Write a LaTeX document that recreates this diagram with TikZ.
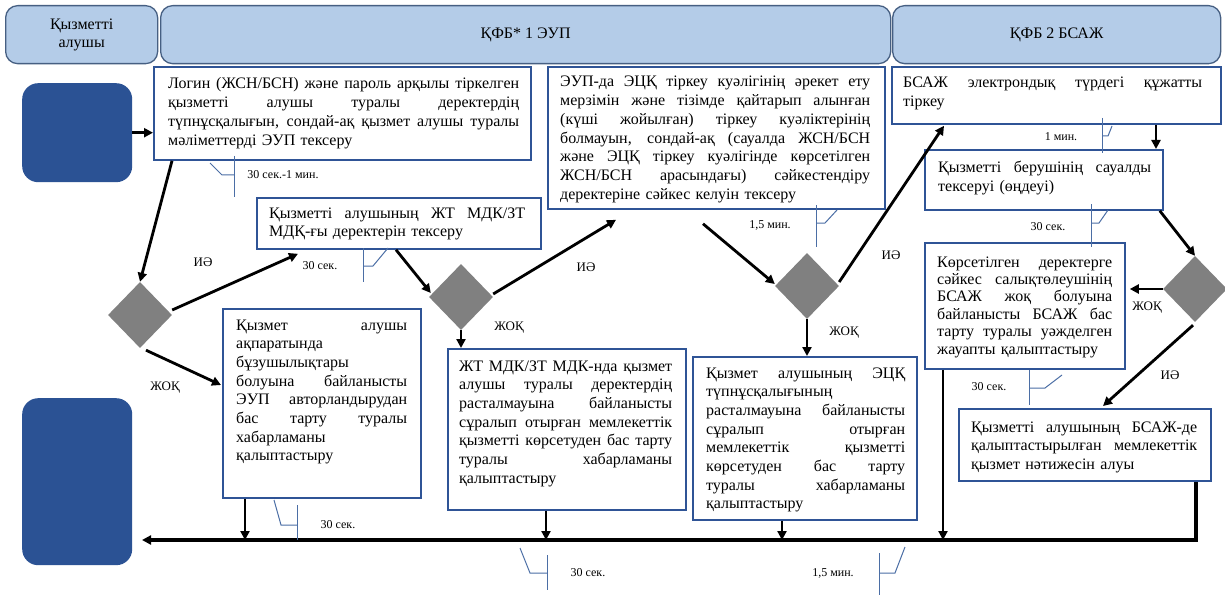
\documentclass[tikz,border=0pt]{standalone}
\usepackage{fontspec}
\setmainfont{Liberation Serif}
\usetikzlibrary{arrows.meta,shapes.geometric,calc}
\definecolor{hdrfill}{RGB}{180,204,232}
\definecolor{hdrline}{RGB}{70,95,130}
\definecolor{boxline}{RGB}{47,84,150}
\definecolor{darkbox}{RGB}{43,82,148}
\definecolor{diagray}{RGB}{128,128,128}
\definecolor{tickline}{RGB}{75,110,165}
\newcommand{\jw}{100pt}
\newcommand{\J}[1]{\leavevmode\hbox to \jw{\spaceskip=0.25em plus 1fil\relax\xspaceskip=\spaceskip #1}\\}
\newcommand{\btxt}{\fontsize{16}{18.7}\selectfont}
\begin{document}
\begin{tikzpicture}[x=1pt,y=-1pt,
 hdr/.style={draw=hdrline, line width=1.3pt, fill=hdrfill, rounded corners=12pt, inner sep=0pt, anchor=north west, align=center, font=\fontsize{16}{18}\selectfont},
 pbox/.style={draw=boxline, line width=1.8pt, fill=white, inner sep=0pt, anchor=north west},
 ptext/.style={anchor=base west, inner sep=0pt, align=left, font=\btxt},
 darkb/.style={fill=darkbox, rounded corners=16pt, inner sep=0pt, anchor=north west},
 dia/.style={diamond, fill=diagray, inner sep=0pt, minimum width=64pt, minimum height=66pt},
 arr/.style={line width=2.8pt, -{Triangle[length=9pt,width=9pt]}},
 lbl/.style={font=\fontsize{13}{15}\selectfont, inner sep=0pt},
 tlbl/.style={font=\fontsize{12}{14}\selectfont, inner sep=0pt},
 tick/.style={draw=tickline, line width=1pt}]
\useasboundingbox (0,0) rectangle (1225,596);
\fill[white] (0,0) rectangle (1225,596);

% headers
\node[hdr, minimum width=152pt, minimum height=58pt] (h1) at (5,5) {Қызметті\\алушы};
\node[hdr, minimum width=730pt, minimum height=58pt] (h2) at (160,5) {ҚФБ* 1 ЭУП};
\node[hdr, minimum width=328pt, minimum height=58pt] (h3) at (892,5) {ҚФБ 2 БСАЖ};

% dark boxes
\node[darkb, minimum width=110pt, minimum height=99pt] (lb1) at (22,83) {};
\node[darkb, minimum width=110pt, minimum height=167pt] (lb2) at (22,398) {};

% process boxes
\node[pbox, minimum width=377pt, minimum height=93pt] (login) at (153,66) {};
\node[pbox, minimum width=337pt, minimum height=142pt] (euip) at (547,66) {};
\node[pbox, minimum width=329pt, minimum height=57pt] (bsaj) at (891,66) {};
\node[pbox, minimum width=284pt, minimum height=51pt] (jt) at (256,197) {};
\node[pbox, minimum width=238pt, minimum height=60pt] (kb) at (924,149) {};
\node[pbox, minimum width=200pt, minimum height=126pt] (kor) at (924,242) {};
\node[pbox, minimum width=198pt, minimum height=189pt] (akp) at (222,308) {};
\node[pbox, minimum width=238pt, minimum height=161pt] (jtm) at (447,348) {};
\node[pbox, minimum width=224pt, minimum height=163pt] (ecq) at (692,356) {};
\node[pbox, minimum width=252pt, minimum height=72pt] (bd) at (958,408) {};

% texts
\node[ptext, text width=351pt] (login-t) at (168,89) {\renewcommand{\jw}{351pt}\J{Логин (ЖСН/БСН) және пароль арқылы тіркелген}\J{қызметті алушы туралы деректердің}\J{түпнұсқалығын, сондай-ақ қызмет алушы туралы}мәліметтерді ЭУП тексеру};
\node[ptext, text width=310pt] (euip-t) at (560,87) {\renewcommand{\jw}{310pt}\J{ЭУП-да ЭЦҚ тіркеу куәлігінің әрекет ету}\J{мерзімін және тізімде қайтарып алынған}\J{(күші жойылған) тіркеу куәліктерінің}\J{болмауын, сондай-ақ (сауалда ЖСН/БСН}\J{және ЭЦҚ тіркеу куәлігінде көрсетілген}\J{ЖСН/БСН арасындағы) сәйкестендіру}деректеріне сәйкес келуін тексеру};
\node[ptext, text width=299pt] (bsaj-t) at (903,88) {\renewcommand{\jw}{299pt}\J{БСАЖ электрондық түрдегі құжатты}тіркеу};
\node[ptext, text width=256pt] (jt-t) at (269,218) {\renewcommand{\jw}{256pt}\J{Қызметті алушының ЖТ МДК/ЗТ}МДҚ-ғы деректерін тексеру};
\node[ptext, text width=213pt] (kb-t) at (938,173) {\renewcommand{\jw}{213pt}\J{Қызметті берушінің сауалды}тексеруі (өңдеуі)};
\node[ptext, text width=175pt, font=\fontsize{16}{17.4}\selectfont] (kor-t) at (937,267) {\renewcommand{\jw}{175pt}\J{Көрсетілген деректерге}\J{сәйкес салықтөлеушінің}\J{БСАЖ жоқ болуына}\J{байланысты БСАЖ бас}\J{тарту туралы уәжделген}жауапты қалыптастыру};
\node[ptext, text width=171pt] (akp-t) at (236,330) {\renewcommand{\jw}{171pt}\J{Қызмет алушы}ақпаратында\\бұзушылықтары\\\J{болуына байланысты}\J{ЭУП авторландырудан}\J{бас тарту туралы}хабарламаны\\қалыптастыру};
\node[ptext, text width=213pt] (jtm-t) at (459,371) {\renewcommand{\jw}{213pt}\J{ЖТ МДК/ЗТ МДК-нда қызмет}\J{алушы туралы деректердің}\J{расталмауына байланысты}\J{сұралып отырған мемлекеттік}\J{қызметті көрсетуден бас тарту}\J{туралы хабарламаны}қалыптастыру};
\node[ptext, text width=199pt] (ecq-t) at (706,378) {\renewcommand{\jw}{199pt}\J{Қызмет алушының ЭЦҚ}түпнұсқалығының\\\J{расталмауына байланысты}\J{сұралып отырған}\J{мемлекеттік қызметті}\J{көрсетуден бас тарту}\J{туралы хабарламаны}қалыптастыру};
\node[ptext, text width=226pt] (bd-t) at (971,432) {\renewcommand{\jw}{226pt}\J{Қызметті алушының БСАЖ-де}\J{қалыптастырылған мемлекеттік}қызмет нәтижесін алуы};

% diamonds
\node[dia] (d1) at (140,315) {};
\node[dia] (d2) at (461,297) {};
\node[dia] (d3) at (807,286) {};
\node[dia] (d4) at (1195,289) {};

% main line coordinates and arrow start points
\coordinate (mainR) at (1197,540);
\coordinate (mainL) at (142,540);
\coordinate (s1) at ($(akp.south west)+(23,0)$);
\coordinate (s2) at ($(jtm.south west)+(99,0)$);
\coordinate (s3) at ($(ecq.south west)+(90,0)$);
\coordinate (s4) at ($(kor.south west)+(19,0)$);
\coordinate (s5) at ($(bd.south west)+(238,0)$);

% arrows
\draw[arr] (lb1.east) -- (login.west |- lb1.east);
\draw[arr] ($(login.south west)+(19,0)$) -- (d1.north);
\draw[arr] ($(d1.east)+(0,-5)$) -- ($(jt.south west)+(42,4)$);
\draw[arr] ($(d1.south)+(6,2)$) -- ($(akp.north west)+(-1,77)$);
\draw[arr] ($(jt.south west)+(140,0)$) -- ($(d2.west)+(2,-4)$);
\draw[arr] ($(d2.east)+(0,-3)$) -- ($(euip.south west)+(69,10)$);
\draw[arr] (d2.south) -- (d2.south |- jtm.north);
\draw[arr] ($(euip.south west)+(156,14)$) -- ($(d3.west)+(0,-2)$);
\draw[arr] ($(d3.east)+(0,-4)$) -- ($(bsaj.south west)+(53,1)$);
\draw[arr] (d3.south) -- (d3.south |- ecq.north);
\draw[arr] ($(bsaj.south west)+(265,0)$) -- ($(kb.north west)+(232,0)$);
\draw[arr] ($(kb.south east)+(-4,0)$) -- (d4.north);
\draw[arr] (d4.west) -- ($(kor.east |- d4.west)+(4,0)$);
\draw[arr] ($(d4.south)+(-2,3)$) -- ($(bd.north west)+(145,-2)$);
\draw[arr] (s1) -- (s1 |- mainR);
\draw[arr] (s2) -- (s2 |- mainR);
\draw[arr] (s3) -- (s3 |- mainR);
\draw[arr] (s4) -- (s4 |- mainR);
\draw[arr, line width=3.2pt] (s5) -- (s5 |- mainR) -- (mainL);

% yes / no labels
\node[lbl] (y1) at (203,262) {ИӘ};
\node[lbl] (y2) at (586,267) {ИӘ};
\node[lbl] (y3) at (891,255) {ИӘ};
\node[lbl] (y4) at (1170,375) {ИӘ};
\node[lbl] (n1) at (165,388) {ЖОҚ};
\node[lbl] (n2) at (509,328) {ЖОҚ};
\node[lbl] (n3) at (844,333) {ЖОҚ};
\node[lbl] (n4) at (1147,308) {ЖОҚ};

% time brackets
\draw[tick] (210,163) -- (222,175) -- (234,175); \draw[tick] (234,156) -- (234,197);
\draw[tick] (363,248) -- (363,282); \draw[tick] (363,266) -- (373,266) -- (388,248);
\draw[tick] (816,205) -- (816,247); \draw[tick] (816,223) -- (825,223) -- (837,210);
\draw[tick] (1102,118) -- (1102,153); \draw[tick] (1102,136) -- (1108,136) -- (1112,126);
\draw[tick] (1091,204) -- (1091,247); \draw[tick] (1091,223) -- (1099,223) -- (1108,210);
\draw[tick] (1029,370) -- (1029,405); \draw[tick] (1029,388) -- (1045,388) -- (1062,375);
\draw[tick] (274,500) -- (281,525) -- (297,525); \draw[tick] (297,505) -- (297,540);
\draw[tick] (520,548) -- (530,573) -- (547,573); \draw[tick] (547,555) -- (547,590);
\draw[tick] (879,553) -- (879,595); \draw[tick] (879,573) -- (895,573) -- (905,547);

\node[tlbl] (t1) at (283,175) {30 сек.-1 мин.};
\node[tlbl] (t2) at (320,266) {30 сек.};
\node[tlbl] (t3) at (770,225) {1,5 мин.};
\node[tlbl] (t4) at (1061,137) {1 мин.};
\node[tlbl] (t5) at (1048,227) {30 сек.};
\node[tlbl] (t6) at (989,387) {30 сек.};
\node[tlbl] (t7) at (338,525) {30 сек.};
\node[tlbl] (t8) at (588,573) {30 сек.};
\node[tlbl] (t9) at (833,573) {1,5 мин.};
\end{tikzpicture}
\end{document}
